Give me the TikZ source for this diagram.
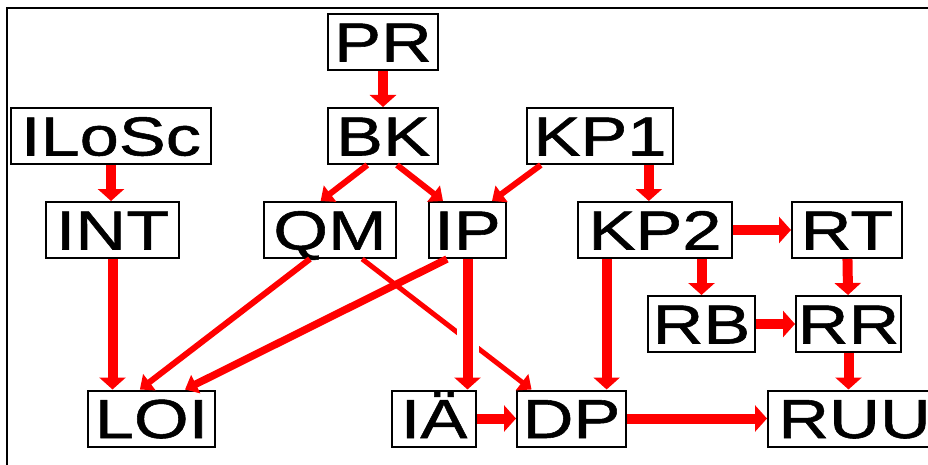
\documentclass[tikz,border=0pt]{standalone}
\usepackage{fontspec}
\setmainfont{Liberation Sans}[FakeStretch=1.28,FakeBold=1]
\usetikzlibrary{arrows.meta,calc}
\begin{document}
\begin{tikzpicture}[x=1pt,y=-1pt,
  box/.style={draw=black, line width=2pt, inner sep=0pt,
    font=\fontsize{55}{55}\selectfont, text height=39pt, text depth=0pt,
    minimum height=56pt},
  arr/.style={draw=red, line width=10pt, -{Triangle[length=12pt,width=26pt]}},
  diag/.style={draw=red, line width=6pt, -{Triangle[length=12pt,width=20pt]}}]
\useasboundingbox (0,0) rectangle (928,465);
\clip (0,0) rectangle (928,465);
\fill[white] (0,0) rectangle (928,465);
\draw[line width=1.5pt] (7,465) -- (7,8) -- (928,8);

\node[box, minimum width=110pt] (PR)    at (383,42)    {PR};
\node[box, minimum width=110pt] (BK)    at (383,136)   {BK};
\node[box, minimum width=200pt] (ILoSc) at (111,136)   {ILoSc};
\node[box, minimum width=146pt] (KP1)   at (600,136)   {KP1};
\node[box, minimum width=133pt] (INT)   at (112.5,230) {INT};
\node[box, minimum width=132pt] (QM)    at (330,230)   {QM};
\node[box, minimum width=77pt]  (IP)    at (467.5,230) {IP};
\node[box, minimum width=154pt] (KP2)   at (655,230)   {KP2};
\node[box, minimum width=110pt] (RT)    at (847,230)   {RT};
\node[box, minimum width=107pt] (RB)    at (701.5,324) {RB};
\node[box, minimum width=105pt] (RR)    at (848.5,324) {RR};
\node[box, minimum width=127pt] (LOI)   at (151.5,418.5) {LOI};
\node[box, minimum width=84pt]  (IA)    at (434,418.5) {IÄ};
\node[box, minimum width=109pt] (DP)    at (571.5,418.5) {DP};
\node[box, minimum width=173pt] (RUU)   at (854.5,418.5) {RUU};

% top connectors
\draw[arr] (PR) -- (BK);
\draw[arr] (ILoSc.south) -- (ILoSc.south |- INT.north);
\draw[diag] ($(BK.south west)!0.36!(BK.south east)$) -- ($(QM.north west)!0.43!(QM.north east)$);
\draw[diag] ($(BK.south west)!0.625!(BK.south east)$) -- ($(IP.north west)!0.19!(IP.north east)$);
\draw[diag] ($(KP1.south west)!0.1!(KP1.south east)$) -- ($(IP.north west)!0.81!(IP.north east)$);
\coordinate (kk) at ($(KP1.south west)!0.83!(KP1.south east)$);
\draw[arr] (kk) -- (kk |- KP2.north);
\draw[arr] (KP2) -- (RT);
\draw[arr] (KP2.south -| RB) -- (RB.north);
\draw[arr] (RT) -- (RR);
\draw[arr] (RB) -- (RR);
\draw[arr] (RR.south) -- (RR.south |- RUU.north);

% lower connectors
\draw[arr] (INT.south) -- (INT.south |- LOI.north);
\draw[diag] ($(QM.south west)!0.35!(QM.south east)$) -- ($(LOI.north west)!0.41!(LOI.north east)$);
\draw[diag, line width=7.5pt] ($(IP.south west)!0.24!(IP.south east)$) -- ($(LOI.north west)!0.76!(LOI.north east)$);
\draw[diag, line width=5pt] ($(QM.south west)!0.74!(QM.south east)$) -- ($(DP.north west)!0.14!(DP.north east)$);
\draw[arr, preaction={draw=white, line width=22pt, -}] (IP.south) -- (IP.south |- IA.north);
\coordinate (kd) at ($(KP2.south west)!0.19!(KP2.south east)$);
\draw[arr] (kd) -- (kd |- DP.north);
\draw[arr] (IA) -- (DP);
\draw[arr] (DP) -- (RUU);
\end{tikzpicture}
\end{document}
